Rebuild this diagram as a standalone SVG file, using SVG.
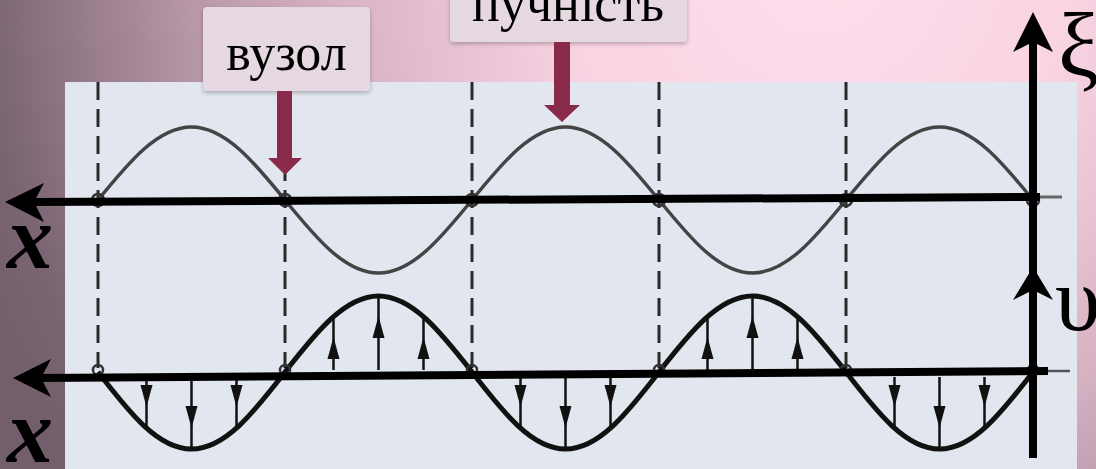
<svg xmlns="http://www.w3.org/2000/svg" width="1096" height="469" viewBox="0 0 1096 469">
<defs>
<radialGradient id="bg" gradientUnits="userSpaceOnUse" cx="820" cy="-40" r="900">
<stop offset="0" stop-color="#ffdeec"/>
<stop offset="0.28" stop-color="#f9d4e3"/>
<stop offset="0.55" stop-color="#d5b1c2"/>
<stop offset="0.7" stop-color="#b797a8"/>
<stop offset="0.93" stop-color="#7a6472"/>
<stop offset="1" stop-color="#735e6b"/>
</radialGradient>
<filter id="sh" x="-10%" y="-20%" width="120%" height="150%">
<feDropShadow dx="0" dy="2" stdDeviation="2" flood-color="#000" flood-opacity="0.25"/>
</filter>
<style>
.lbl{fill:#e5d8e0;filter:url(#sh)}
.lt{font-family:"Liberation Serif","Times New Roman",serif;font-size:52px;fill:#000;text-anchor:middle}
.mar{fill:#8a2a4b}
.dash{stroke:#2a2a2a;stroke-width:3;stroke-dasharray:18 9;fill:none}
.wt{fill:none;stroke:#444;stroke-width:3.5}
.wb{fill:none;stroke:#111;stroke-width:5}
.nd{fill:none;stroke:#333;stroke-width:2.5}
.ax{stroke:#000;stroke-width:8;fill:none}
.ah{fill:#000}
.v{stroke:#111;stroke-width:2.5}
.vh{fill:#111}
.sym{font-family:"Liberation Serif","Times New Roman",serif;font-size:92px;fill:#000}
.xs{font-family:"Liberation Serif","Times New Roman",serif;font-size:92px;font-weight:bold;font-style:italic;fill:#000}
</style>
</defs>
<rect id="background" x="0" y="0" width="1096" height="469" fill="url(#bg)"/>
<rect id="panel" x="65" y="82" width="1012" height="387" fill="#e2e6ee"/>
<g id="dashed-lines">
<line class="dash" x1="98" y1="82" x2="98" y2="368"/>
<line class="dash" x1="285" y1="82" x2="285" y2="368"/>
<line class="dash" x1="472" y1="82" x2="472" y2="368"/>
<line class="dash" x1="659" y1="82" x2="659" y2="368"/>
<line class="dash" x1="846" y1="82" x2="846" y2="368"/>
</g>
<g id="displacement-wave">
<path class="wt" d="M98,200 c30.49,-37.4 59.66,-73 93.5,-73 c33.84,0 63.01,35.6 93.5,73 c30.49,37.4 59.66,73 93.5,73 c33.84,0 63.01,-35.6 93.5,-73 c30.49,-37.4 59.66,-73 93.5,-73 c33.84,0 63.01,35.6 93.5,73 c30.49,37.4 59.66,73 93.5,73 c33.84,0 63.01,-35.6 93.5,-73 c30.49,-37.4 59.66,-73 93.5,-73 c33.84,0 63.01,35.6 93.5,73"/>
<line x1="1040" y1="197" x2="1062" y2="197" stroke="#666" stroke-width="3"/>
</g>
<g id="velocity-wave">
<path class="wb" d="M98,372 c30.49,39.5 59.66,77 93.5,77 c33.84,0 63.01,-37.5 93.5,-77 c30.49,-38.9 59.66,-76 93.5,-76 c33.84,0 63.01,37.1 93.5,76 c30.49,39.5 59.66,77 93.5,77 c33.84,0 63.01,-37.5 93.5,-77 c30.49,-38.9 59.66,-76 93.5,-76 c33.84,0 63.01,37.1 93.5,76 c30.49,39.5 59.66,77 93.5,77 c33.84,0 63.01,-37.5 93.5,-77"/>
<line x1="1040" y1="371" x2="1070" y2="371" stroke="#555" stroke-width="2.5"/>
</g>
<g id="nodes">
<circle class="nd" cx="98" cy="200" r="6"/>
<circle class="nd" cx="285" cy="200" r="6"/>
<circle class="nd" cx="472" cy="200" r="6"/>
<circle class="nd" cx="659" cy="200" r="6"/>
<circle class="nd" cx="846" cy="200" r="6"/>
<circle class="nd" cx="1033" cy="200" r="6"/>
<circle class="nd" cx="98" cy="370" r="5"/>
<circle class="nd" cx="285" cy="370" r="5"/>
<circle class="nd" cx="472" cy="370" r="5"/>
<circle class="nd" cx="659" cy="370" r="5"/>
<circle class="nd" cx="846" cy="370" r="5"/>
<circle class="nd" cx="1033" cy="370" r="5"/>
</g>
<g id="velocity-arrows">
<path class="v" d="M146.5,377V427M191.5,377V449M236.5,377V427M520.5,377V427M565.5,377V449M610.5,377V427M894.5,377V427M939.5,377V449M984.5,377V427M333.5,370V317M378.5,370V296M423.5,370V317M707.5,370V317M752.5,370V296M797.5,370V317"/>
<polygon class="vh" points="146.5,407 140.5,385 152.5,385"/>
<polygon class="vh" points="191.5,428 185.5,406 197.5,406"/>
<polygon class="vh" points="236.5,407 230.5,385 242.5,385"/>
<polygon class="vh" points="520.5,407 514.5,385 526.5,385"/>
<polygon class="vh" points="565.5,428 559.5,406 571.5,406"/>
<polygon class="vh" points="610.5,407 604.5,385 616.5,385"/>
<polygon class="vh" points="894.5,407 888.5,385 900.5,385"/>
<polygon class="vh" points="939.5,428 933.5,406 945.5,406"/>
<polygon class="vh" points="984.5,407 978.5,385 990.5,385"/>
<polygon class="vh" points="333.5,337 327.5,359 339.5,359"/>
<polygon class="vh" points="378.5,316 372.5,338 384.5,338"/>
<polygon class="vh" points="423.5,337 417.5,359 429.5,359"/>
<polygon class="vh" points="707.5,337 701.5,359 713.5,359"/>
<polygon class="vh" points="752.5,316 746.5,338 758.5,338"/>
<polygon class="vh" points="797.5,337 791.5,359 803.5,359"/>
</g>
<g id="axes">
<line class="ax" x1="30" y1="202" x2="1040" y2="197"/>
<polygon class="ah" points="5,202 44,183 34,202 44,222"/>
<line class="ax" x1="38" y1="378" x2="1048" y2="371"/>
<polygon class="ah" points="13,378 51,359 41,378 51,397"/>
<line class="ax" x1="1033" y1="35" x2="1033" y2="458"/>
<polygon class="ah" points="1033,12 1053,52 1033,42 1013,52"/>
<polygon class="ah" points="1033,267 1053,300 1033,290 1013,300"/>
</g>
<g id="axis-labels">
<text class="xs" x="7" y="268">x</text>
<text class="xs" x="7" y="462">x</text>
<text class="sym" x="1058" y="76">ξ</text>
<text class="sym" x="1055" y="330">υ</text>
</g>
<g id="label-vuzol">
<rect class="lbl" x="203" y="7" width="167" height="84" rx="4"/>
<text class="lt" x="286.5" y="70">вузол</text>
<path class="mar" d="M277,91H292V158H302L285,175L268,158H277Z"/>
</g>
<g id="label-puchnist">
<rect class="lbl" x="450" y="-40" width="237" height="82" rx="4"/>
<text class="lt" x="568" y="21">пучність</text>
<path class="mar" d="M554,42H570V105H580L562,122L544,105H554Z"/>
</g>
</svg>
